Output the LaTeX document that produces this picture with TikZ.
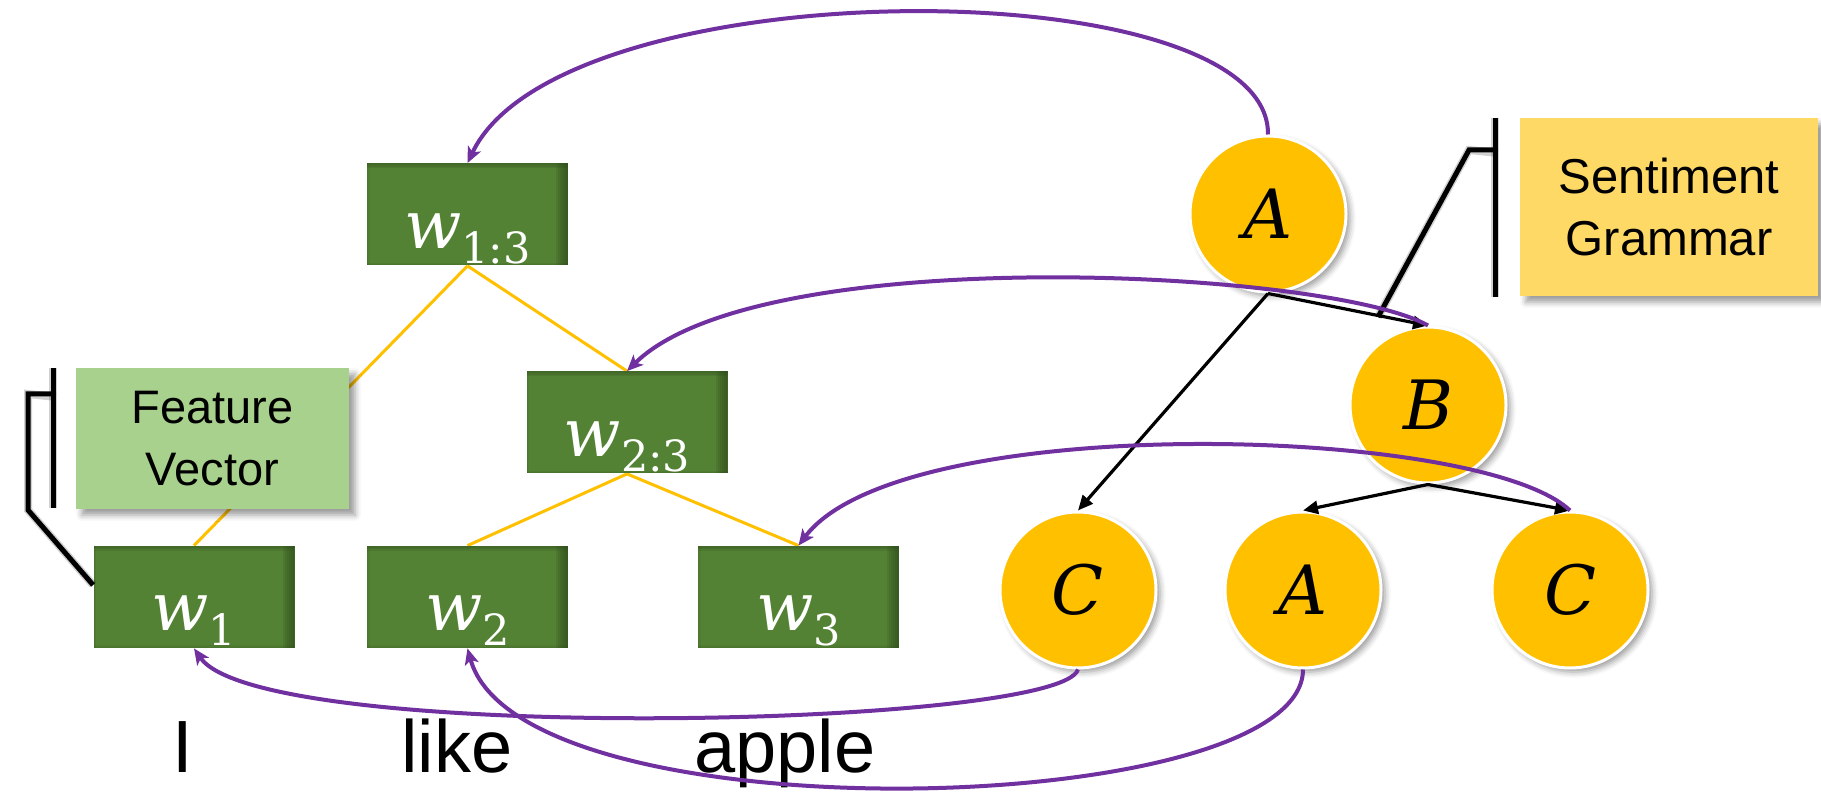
\documentclass[tikz,border=0pt]{standalone}
\usepackage{fontspec}
\setmainfont{Liberation Sans}
\newfontfamily\mathlike{DejaVu Serif}
\usetikzlibrary{arrows.meta,shadows.blur,backgrounds}
\definecolor{boxgreen}{HTML}{548235}
\definecolor{boxdark}{HTML}{2E4A1C}
\definecolor{fvgreen}{HTML}{A9D18E}
\definecolor{sgyellow}{HTML}{FFD966}
\definecolor{nodegold}{HTML}{FFC000}
\definecolor{linkpurple}{HTML}{7030A0}
\tikzset{
  wbox/.style={rectangle, fill=boxgreen, minimum width=100.5pt, minimum height=51pt,
    inner sep=0pt, text=white,
    path picture={
      \foreach \i in {1,...,6}{
        \fill[boxdark, opacity=0.16]
          ([xshift=-\i pt]path picture bounding box.north east) rectangle (path picture bounding box.south east);}
      \foreach \i in {1,2,3}{
        \fill[boxdark, opacity=0.16]
          (path picture bounding box.north west) rectangle ([yshift=-0.8*\i pt]path picture bounding box.north east);}
      \foreach \i in {1,2}{
        \fill[boxdark, opacity=0.12]
          (path picture bounding box.south west) rectangle ([yshift=0.7*\i pt]path picture bounding box.south east);
        \fill[boxdark, opacity=0.10]
          (path picture bounding box.south west) rectangle ([xshift=0.7*\i pt]path picture bounding box.north west);}
    }},
  infobox/.style={rectangle, inner sep=0pt, align=center,
    blur shadow={shadow xshift=3pt, shadow yshift=-3pt, shadow blur radius=3pt}},
  fvbox/.style={infobox, fill=fvgreen, minimum width=136.5pt, minimum height=70.5pt,
    font=\fontsize{23.5}{31}\selectfont},
  sgbox/.style={infobox, fill=sgyellow, minimum width=149pt, minimum height=89pt,
    font=\fontsize{24.5}{31}\selectfont},
  gnode/.style={circle, fill=nodegold, draw=white, line width=1.5pt, minimum size=78pt,
    inner sep=0pt, font=\mathlike\itshape\fontsize{34}{38}\selectfont,
    blur shadow={shadow xshift=2pt, shadow yshift=-2pt, shadow blur radius=3pt}},
  wordlabel/.style={anchor=base, inner sep=0pt, font=\fontsize{37}{44}\selectfont},
  treeline/.style={draw=nodegold, line width=1.5pt},
  treearrow/.style={draw=black, line width=1.6pt, -{Triangle[length=7.5pt,width=6.5pt]}},
  parselink/.style={draw=linkpurple, line width=2pt,
    -{Stealth[length=8pt,width=7pt,inset=2pt]}},
  bracketline/.style={draw=black, line width=2.5pt},
  bracketshadow/.style={draw=black, opacity=0.18, line width=4pt},
}
% w with subscript, baseline placed below the box centre
\newcommand{\wvar}[1]{\raisebox{0pt}[34pt][0pt]{{\mathlike\itshape\fontsize{33.5}{36}\selectfont w}\raisebox{-7.5pt}{\mathlike\fontsize{21.5}{24}\selectfont #1}}}
\begin{document}
\begin{tikzpicture}[x=0.5pt,y=-0.5pt]
\useasboundingbox (0,0) rectangle (1821,795);

% word boxes
\node[wbox] (w13) at (467.5,214.5) {\wvar{1:3}};
\node[wbox] (w23) at (627,422.5) {\wvar{2:3}};
\node[wbox] (w1) at (194,597) {\wvar{1}};
\node[wbox] (w2) at (467.5,597) {\wvar{2}};
\node[wbox] (w3) at (798.5,597) {\wvar{3}};

% labels
\node[fvbox] (fv) at (212.5,438.5) {Feature\\Vector};
\node[sgbox] (sg) at (1669,207) {Sentiment\\Grammar};

% grammar nodes
\node[gnode] (A1) at (1268,214) {A};
\node[gnode] (B) at (1428,405) {B};
\node[gnode] (C1) at (1078,590) {C};
\node[gnode] (A2) at (1303,590) {A};
\node[gnode] (C2) at (1570,590) {C};

% words
\node[wordlabel] (tI) at (183,773) {I};
\node[wordlabel] (tlike) at (457,773) {like};
\node[wordlabel] (tapple) at (785,773) {apple};

% composition tree (behind boxes)
\begin{pgfonlayer}{background}
\draw[treeline] (w13.south) -- (w23.north);
\draw[treeline] (w13.south) -- (w1.north);
\draw[treeline] (w23.south) -- (w2.north);
\draw[treeline] (w23.south) -- (w3.north);
\end{pgfonlayer}

% grammar tree
\draw[treearrow] (A1.south) -- (C1.north);
\draw[treearrow] (A1.south) -- (B.north);
\draw[treearrow] (B.south) -- (A2.north);
\draw[treearrow] (B.south) -- (C2.north);

% callout brackets
\coordinate (fvtop) at (53,368);
\coordinate (fvbot) at (53,508);
\coordinate (fvkneeA) at (28,394);
\coordinate (fvkneeB) at (28,510);
\coordinate (sgtop) at (1495,118);
\coordinate (sgbot) at (1495,297);
\coordinate (sgknee) at (1469,150);
\coordinate (sgtip) at (1378,317);
\begin{scope}[shift={(3,3)}]
\draw[bracketshadow] (fvtop) -- (fvbot);
\draw[bracketshadow] (53,394) -- (fvkneeA) -- (fvkneeB) -- ([yshift=6pt]w1.west);
\draw[bracketshadow] (sgtop) -- (sgbot);
\draw[bracketshadow] (1495,150) -- (sgknee) -- (sgtip);
\end{scope}
\draw[bracketline] (fvtop) -- (fvbot);
\draw[bracketline] (53,394) -- (fvkneeA) -- (fvkneeB) -- ([yshift=6pt]w1.west);
\draw[bracketline] (sgtop) -- (sgbot);
\draw[bracketline] (1495,150) -- (sgknee) -- (sgtip);

% alignment links
\draw[parselink] (A1.north) .. controls (1270,-33) and (560,-33) .. (w13.north);
\draw[parselink] (B.north) .. controls (1330,270) and (760,240) .. (w23.north);
\draw[parselink] (C2.north) .. controls (1480,425) and (900,410) .. (w3.north);
\draw[parselink] (C1.south) .. controls (1060,728) and (260,745) .. (w1.south);
\draw[parselink] (A2.south) .. controls (1303,820) and (520,840) .. (w2.south);
\end{tikzpicture}
\end{document}
